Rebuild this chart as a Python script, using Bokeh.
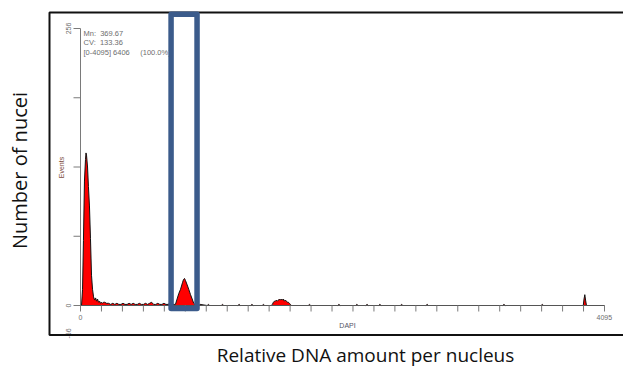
import math
from bokeh.plotting import figure
from bokeh.models import Range1d
from bokeh.core.properties import value
from bokeh.embed import file_html
from bokeh.resources import INLINE

# ---------------- data (DAPI channel vs. events) ----------------
peak1_channel = [0, 8, 16, 23, 31, 39, 43, 47, 55, 62, 70, 78, 86, 94, 102, 110, 118, 125, 133, 141, 149, 157, 165, 172, 180]
peak1_events = [0, 0, 15, 60, 115, 135, 141, 139, 128, 110, 92, 62, 28, 15, 8, 5, 7, 4, 6, 3, 4, 2, 3, 2, 3]

noise1_channel = [188, 204, 220, 236, 252, 268, 284, 300, 316, 332, 348, 364, 380, 396, 412, 428, 444, 460,
                  476, 492, 508, 524, 540, 556, 572, 588, 604, 620, 636, 652, 668, 684, 700, 716, 732]
noise1_events = [3, 2, 2, 1, 2, 1, 2, 1, 1, 2, 1, 1, 2, 1, 2, 1, 1, 2,
                 1, 1, 2, 1, 2, 3, 1, 1, 2, 1, 1, 2, 1, 1, 2, 1, 1]

peak2_channel = [742, 755, 768, 782, 797, 805, 813, 821, 834, 846, 860, 873, 885, 895]
peak2_events = [1, 6, 11, 15, 21, 24, 25, 23, 19, 15, 10, 6, 2, 1]

noise2_channel = [905, 925, 935, 990, 1000, 1010, 1100, 1110, 1120, 1230, 1240, 1250, 1330, 1340, 1350, 1420, 1430, 1440, 1490]
noise2_events = [0, 0, 1, 0, 1, 0, 0, 1, 0, 0, 1, 0, 0, 1, 0, 0, 1, 0, 0]

peak3_channel = [1500, 1508, 1516, 1524, 1531, 1539, 1547, 1555, 1563, 1570, 1578, 1586, 1594, 1602, 1610, 1617, 1625, 1633, 1641, 1650]
peak3_events = [1, 3, 4, 4, 5, 4, 5, 6, 5, 6, 5, 6, 4, 5, 4, 3, 3, 2, 1, 0]

noise3_channel = [1780, 1790, 1800, 2010, 2020, 2030, 2150, 2160, 2170, 2230, 2240, 2250,
                  2330, 2340, 2350, 2500, 2510, 2520, 2700, 2710, 2720, 3300, 3310, 3320, 3600, 3610, 3620]
noise3_events = [0, 1, 0, 0, 1, 0, 0, 1, 0, 0, 1, 0,
                 0, 1, 0, 0, 1, 0, 0, 1, 0, 0, 1, 0, 0, 1, 0]

spike_channel = [3930, 3936, 3942, 3948, 3955, 4095]
spike_events = [0, 6, 10, 5, 0, 0]

channel = peak1_channel + noise1_channel + peak2_channel + noise2_channel + peak3_channel + noise3_channel + spike_channel
events = peak1_events + noise1_events + peak2_events + noise2_events + peak3_events + noise3_events + spike_events

y_ticks = [0, 64, 128, 192, 256]
x_ticks = [k * 4096 / 25 for k in range(26)]
stats_lines = ["Mn:\u00a0\u00a0369.67", "CV:\u00a0\u00a0133.36", "[0-4095] 6406\u00a0\u00a0\u00a0\u00a0\u00a0(100.0%)"]
gate_range = [708, 911]  # channels highlighted by the blue box

# ---------------- layout (page pixels -> data) ----------------
W, H = 623, 366
PX0, PX1 = 80, 604
PY0, PY1 = 305, 28
SX = 4096 / (PX1 - PX0)
SY = 256 / (PY0 - PY1)


def fx(px):
    return (px - PX0) * SX


def fy(py):
    return (PY0 - py) * SY


p = figure(width=W, height=H, output_backend="svg", toolbar_location=None,
           x_range=Range1d(fx(0), fx(W)), y_range=Range1d(fy(H), fy(0)),
           x_axis_type=None, y_axis_type=None, min_border=0,
           min_border_left=0, min_border_right=0, min_border_top=0, min_border_bottom=0)
p.grid.visible = False
p.outline_line_color = None
p.background_fill_color = "white"
p.border_fill_color = "white"

small = value("Liberation Sans")
grey = "#6e6e6e"

# histogram
p.varea(x=channel, y1=0, y2=events, fill_color="#ff0000")
p.line(x=channel, y=events, line_color="#111111", line_width=1)

# y axis
p.line(x=[0, 0], y=[0, 256], line_color="#7a7a7a", line_width=1)
p.segment(x0=[fx(73)] * len(y_ticks), y0=y_ticks, x1=[0] * len(y_ticks), y1=y_ticks,
          line_color="#7a7a7a", line_width=1)
p.text(x=[fx(68), fx(68)], y=[0, 256], text=["0", "256"], angle=math.pi / 2,
       text_font=small, text_font_size="7px", text_color=grey,
       text_align="center", text_baseline="middle")
p.text(x=[fx(61)], y=[fy(167)], text=["Events"], angle=math.pi / 2,
       text_font=small, text_font_size="7px", text_color="#7a4a3a",
       text_align="center", text_baseline="middle")
p.text(x=[fx(68)], y=[fy(333)], text=["-56"], angle=math.pi / 2,
       text_font=small, text_font_size="7px", text_color=grey,
       text_align="center", text_baseline="middle")

# x axis
p.line(x=[0, 4096], y=[0, 0], line_color="#555555", line_width=1)
p.segment(x0=x_ticks, y0=[0] * len(x_ticks), x1=x_ticks, y1=[fy(311)] * len(x_ticks),
          line_color="#7a7a7a", line_width=1)
p.text(x=[0, 4095], y=[fy(317), fy(317)], text=["0", "4095"],
       text_font=small, text_font_size="7px", text_color=grey,
       text_align="center", text_baseline="middle")
p.text(x=[fx(347)], y=[fy(325)], text=["DAPI"],
       text_font=small, text_font_size="7px", text_color="#555566",
       text_align="center", text_baseline="middle")

# statistics
p.text(x=[fx(83)] * 3, y=[fy(33), fy(42), fy(51.5)], text=stats_lines,
       text_font=small, text_font_size="7.5px", text_color=grey,
       text_align="left", text_baseline="middle")

# outer frame
p.line(x=[fx(640), fx(49), fx(49), fx(640)], y=[fy(12), fy(12), fy(334.5), fy(334.5)],
       line_color="#111111", line_width=2)

# gate box
g0, g1 = gate_range
p.line(x=[g0, g1, g1, g0, g0, g1], y=[fy(13.8), fy(13.8), fy(308), fy(308), fy(13.8), fy(13.8)],
       line_color="#3b5b8b", line_width=5.5, line_join="round")

# big labels
big = value("Open Sans")
p.text(x=[fx(19)], y=[fy(170)], text=["Number of nucei"], angle=math.pi / 2,
       text_font=big, text_font_size="20px", text_color="#111111",
       text_align="center", text_baseline="middle")
p.text(x=[fx(365)], y=[fy(354)], text=["Relative DNA amount per nucleus"],
       text_font=big, text_font_size="19px", text_color="#111111",
       text_align="center", text_baseline="middle")

open("out.html", "w").write(file_html(p, INLINE))
